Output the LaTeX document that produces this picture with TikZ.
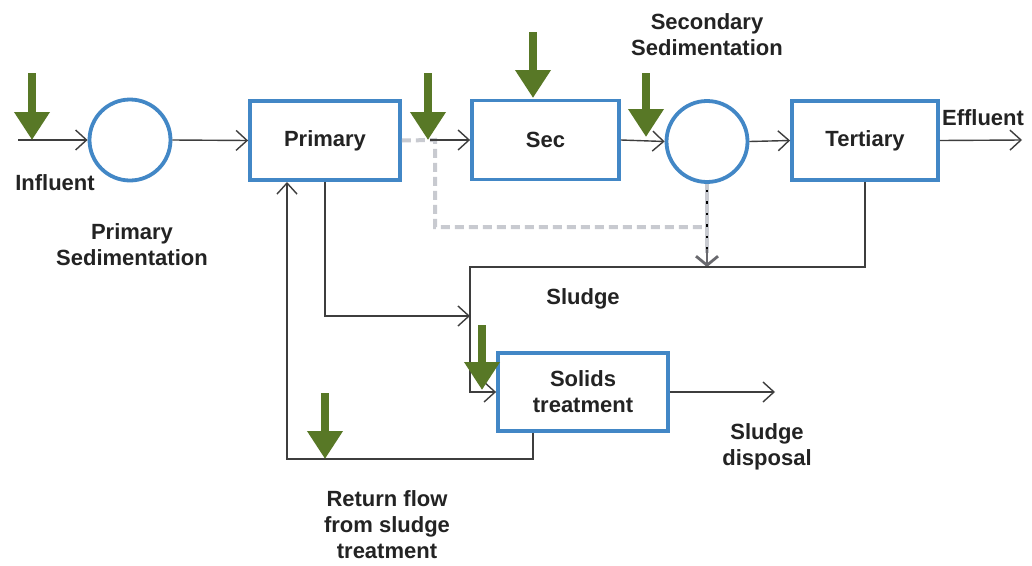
\documentclass[tikz,border=0pt]{standalone}
\usepackage{fontspec}
\setmainfont{Liberation Sans}
\usetikzlibrary{arrows.meta}
\definecolor{boxblue}{RGB}{66,135,198}
\definecolor{leaf}{RGB}{88,120,38}
\definecolor{ink}{RGB}{62,62,62}
\definecolor{txt}{RGB}{35,35,35}
\definecolor{pale}{RGB}{200,202,208}
\definecolor{midgray}{RGB}{105,105,110}

\begin{document}
\begin{tikzpicture}[x=1pt,y=-1pt,
  lbl/.style={font=\fontsize{22}{26}\selectfont\bfseries,text=txt,align=center,inner sep=0pt},
  unit/.style={draw=boxblue,line width=3.8pt,fill=white,minimum width=#1,minimum height=79pt,inner sep=0pt,lbl},
  tank/.style={draw=boxblue,line width=3.8pt,fill=white,circle,minimum size=81pt,inner sep=0pt},
  flow/.style={draw=ink,line width=1.4pt,-{Straight Barb[length=11pt,width=20pt]}},
  dose/.style={draw=leaf,line width=8pt,-{Triangle[length=28pt,width=34pt]}},
  bypass/.style={draw=pale,line width=4pt,dash pattern=on 9pt off 5pt}]

\fill[white] (0,0) rectangle (1032,565);
\useasboundingbox (0,0) rectangle (1032,565);

% treatment units
\node[tank] (ps) at (130,140) {};
\node[unit=150pt] (pri) at (325,140.5) {Primary};
\node[unit=147pt] (sec) at (545.5,140) {Sec};
\node[tank] (ss) at (707,141.5) {};
\node[unit=146pt] (ter) at (865,140.5) {Tertiary};
\node[unit=170pt,minimum height=78pt] (sol) at (583,392) {Solids\\treatment};

% labels
\node[lbl] (linf) at (55,183) {Influent};
\node[lbl] (lps) at (132,245) {Primary\\Sedimentation};
\node[lbl] (lss) at (707,35) {Secondary\\Sedimentation};
\node[lbl] (leff) at (983,118) {Effluent};
\node[lbl] (lsl) at (583,299) {Sludge};
\node[lbl] (ldisp) at (767,447) {Sludge\\disposal};
\node[lbl] (lret) at (387,525) {Return flow\\from sludge\\treatment};

% free ends of the connectors
\coordinate (in) at (18,140);
\coordinate (out) at (1022,140);
\coordinate (split) at (435,140);
\coordinate (bend) at (435,227);
\coordinate (merge) at (707,227);
\coordinate (collect) at (707,267);
\coordinate (tcorner) at (865,267);
\coordinate (scorner) at (470,267);
\coordinate (sdown) at (470,392);
\coordinate (pdown) at (325,316);
\coordinate (pjoin) at (470,316);
\coordinate (disp) at (775,392);
\coordinate (rdown) at (533,459);
\coordinate (rleft) at (287,459);
\coordinate (rtop) at (287,182);

% bypass around secondary treatment
\draw[bypass] (pri.east) -- (split) -- (bend) -- (merge);

% main liquid train
\draw[flow] (in) -- (ps.west);
\draw[flow] (ps.east) -- (pri.west);
\draw[flow] (430,140) -- (sec.west);
\draw[flow] (sec.east) -- (ss.west);
\draw[flow] (ss.east) -- (ter.west);
\draw[flow] (ter.east) -- (out);

% secondary sludge draw-off
\draw[pale,line width=4pt] (ss.south) -- ([yshift=14pt]collect);
\draw[black,line width=2.4pt,dash pattern=on 2.5pt off 9pt] ([yshift=-6pt]ss.south) -- ([yshift=14pt]collect);
\draw[midgray,line width=2.8pt,-{Straight Barb[length=9pt,width=22pt]}] ([yshift=18pt]collect) -- (collect);

% sludge lines
\draw[flow] (ter.south) -- (tcorner) -- (scorner) -- (sdown) -- (sol.west |- sdown);
\draw[flow] (pri.south) -- (pdown) -- (pjoin);
\draw[flow] (sol.east |- disp) -- (disp);
\draw[flow] (sol.south -| rdown) -- (rdown) -- (rleft) -- (rtop);

% dosing points
\draw[dose] (32,73) -- (32,140);
\draw[dose] (428,73) -- (428,140);
\draw[dose] (533,32) -- (533,98);
\draw[dose] (646,73) -- (646,137);
\draw[dose] (482,325) -- (482,390);
\draw[dose] (325,393) -- (325,459);
\end{tikzpicture}
\end{document}
